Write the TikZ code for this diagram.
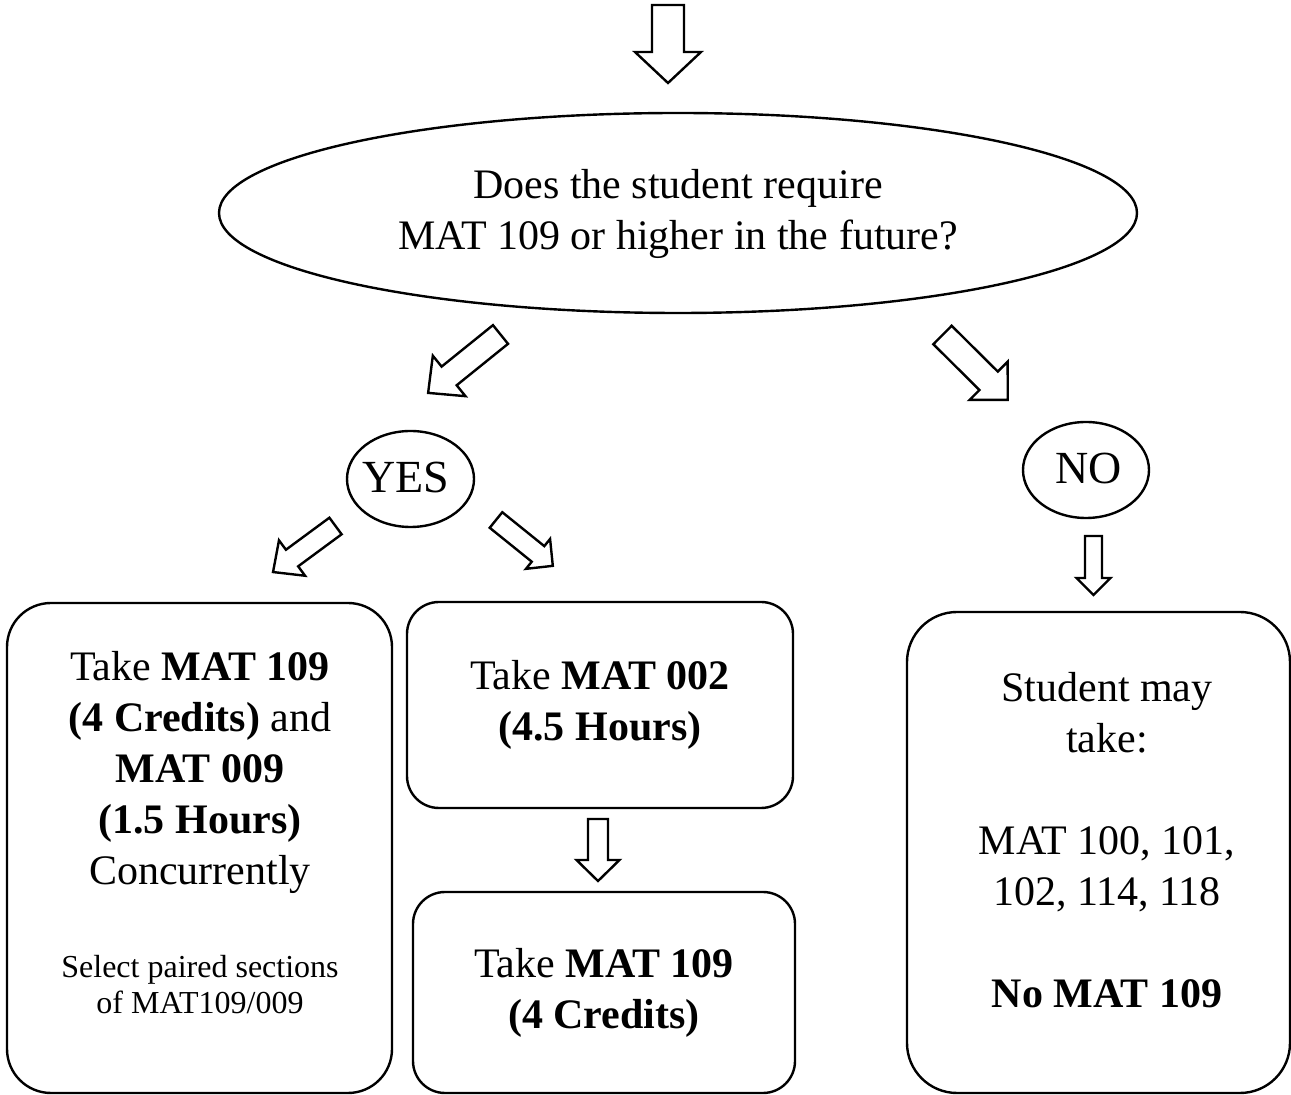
\documentclass[tikz,border=0pt]{standalone}
\usepackage{fontspec}
\setmainfont{Liberation Serif}
\usetikzlibrary{shapes.geometric}
\tikzset{
  outline/.style={draw=black, line width=1.2pt},
  barrow/.style={outline, fill=white, line join=miter},
  rbox/.style={outline, rectangle, inner sep=0pt, align=center,
    font=\fontsize{21}{25.5}\selectfont},
  oval/.style={outline, ellipse, inner sep=0pt},
  bigtxt/.style={font=\fontsize{21}{25.5}\selectfont, align=center, inner sep=0pt},
  yntxt/.style={font=\fontsize{23}{27}\selectfont, inner sep=0pt},
  smalltxt/.style={font=\fontsize{16}{18}\selectfont, align=center, inner sep=0pt}
}
% tail x, tail y, angle, length, shaft half, head half, head length
\newcommand{\blockarrow}[7]{%
  \begin{scope}[shift={(#1,#2)},rotate=#3]
    \draw[barrow] (0,-#5) -- ({#4-#7},-#5) -- ({#4-#7},-#6) -- (#4,0)
      -- ({#4-#7},#6) -- ({#4-#7},#5) -- (0,#5) -- cycle;
  \end{scope}}
\begin{document}
\begin{tikzpicture}[x=0.5pt,y=-0.5pt]
\useasboundingbox (0,0) rectangle (1291,1095);

% question ellipse
\node[oval, minimum width=459pt, minimum height=100pt] (q) at (678,213) {};
\node[bigtxt] (qtxt) at (678,214) {Does the student require\\MAT 109 or higher in the future?};

% yes / no
\node[oval, minimum width=63.5pt, minimum height=48pt] (yes) at (410.5,479) {};
\node[yntxt] (yestxt) at (405.5,477.5) {YES};
\node[oval, minimum width=63pt, minimum height=48pt] (no) at (1086,470) {};
\node[yntxt] (notxt) at (1088.5,469) {NO};

% boxes
\node[rbox, rounded corners=22pt, minimum width=192.5pt, minimum height=245pt] (left) at (199.5,848) {};
\node[bigtxt] (lefttxt) at (200,772.5) {Take \textbf{MAT 109}\\\textbf{(4 Credits)} and\\\textbf{MAT 009}\\\textbf{(1.5 Hours)}\\Concurrently};
\node[smalltxt] (leftnote) at (200,985) {Select paired sections\\of MAT109/009};

\node[rbox, rounded corners=16pt, minimum width=193pt, minimum height=103pt] (m2) at (600,705) {Take \textbf{MAT 002}\\\textbf{(4.5 Hours)}};
\node[rbox, rounded corners=16pt, minimum width=191pt, minimum height=100.5pt] (m109) at (604,992.5) {Take \textbf{MAT 109}\\\textbf{(4 Credits)}};

\node[rbox, rounded corners=25pt, minimum width=191.5pt, minimum height=240.5pt] (right) at (1098.5,852.5) {};
\node[bigtxt] (righttxt) at (1107,840.5) {Student may\\take:\\[25.5pt]MAT 100, 101,\\102, 114, 118\\[25.5pt]\textbf{No MAT 109}};

% block arrows
\blockarrow{668}{5}{-90}{78}{16}{33}{31}
\blockarrow{500.5}{334.5}{-141.1}{93}{12}{26}{27}
\blockarrow{942.5}{335}{-44.8}{92}{13}{27}{27}
\blockarrow{335.5}{526}{-143.6}{77.6}{10.3}{22}{23.6}
\blockarrow{496}{520}{-38.9}{73}{10}{19.2}{19}
\blockarrow{1093.5}{536}{-90}{59}{8.5}{17}{17}
\blockarrow{598}{819}{-90}{62}{10}{21.5}{21}
\end{tikzpicture}
\end{document}
